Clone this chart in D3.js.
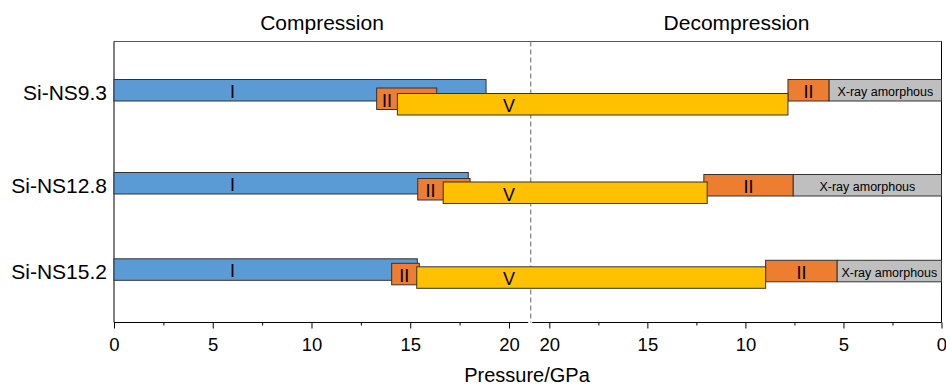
<!DOCTYPE html>
<html>
<head>
<meta charset="utf-8">
<script src="https://cdn.jsdelivr.net/npm/d3@7"></script>
<style>
  body { margin: 0; background: #fff; }
  svg text { font-family: "Liberation Sans", Arial, sans-serif; fill: #000; }
</style>
</head>
<body>
<div id="chart"></div>
<script>
// ---------- data (GPa) ----------
var samples = ["Si-NS9.3", "Si-NS12.8", "Si-NS15.2"];

// compression side
var phaseIEnd = [18.84, 17.94, 15.36];
var phaseIIcStart = [13.3, 15.38, 14.06];
var phaseIIcEnd = [16.34, 18.03, 15.46];
var phaseVStart = [14.35, 16.67, 15.33];

// decompression side (pressure falling)
var phaseVEnd = [7.83, 11.95, 8.97];
var phaseIIdStart = [7.83, 12.12, 8.97];
var phaseIIdEnd = [5.73, 7.56, 5.32];

var compTicks = [0, 5, 10, 15, 20];
var compMinor = [2.5, 7.5, 12.5, 17.5];
var decompTicks = [20, 15, 10, 5, 0];
var decompMinor = [17.5, 12.5, 7.5, 2.5];

var colors = { I: "#5B9BD5", II: "#ED7D31", V: "#FFC000", A: "#BFBFBF" };

// ---------- layout ----------
var svgWidth = 946, svgHeight = 386;
var plotTop = 41.5, plotBottom = 322.5, plotLeft = 114, plotRight = 941.5, splitX = 530.7;
var barH = 21.5;

// lane offsets of each phase box below the phase I box, per row
var laneIIc = [8.5, 6, 4.5];
var laneV = [14, 9.5, 8];
var laneIId = [0, 2, 1.5];

var svg = d3.select("#chart").append("svg")
  .attr("width", svgWidth)
  .attr("height", svgHeight);

var xC = d3.scaleLinear().domain([0, 21.1]).range([plotLeft, splitX]);
var xD = d3.scaleLinear().domain([20.95, 0]).range([splitX, plotRight]);
var yRow = d3.scaleOrdinal().domain(samples).range([79.5, 172.5, 258.8]);

// frame
svg.append("line").attr("x1", plotLeft).attr("x2", plotRight).attr("y1", plotTop).attr("y2", plotTop)
  .attr("stroke", "#555").attr("stroke-width", 1);
svg.append("line").attr("x1", plotLeft).attr("x2", plotLeft).attr("y1", plotTop).attr("y2", plotBottom)
  .attr("stroke", "#000").attr("stroke-width", 1);
svg.append("line").attr("x1", plotRight).attr("x2", plotRight).attr("y1", plotTop).attr("y2", plotBottom)
  .attr("stroke", "#000").attr("stroke-width", 1);
svg.append("line").attr("x1", plotLeft).attr("x2", splitX - 2.5).attr("y1", plotBottom).attr("y2", plotBottom)
  .attr("stroke", "#000").attr("stroke-width", 1);
svg.append("line").attr("x1", splitX + 1.5).attr("x2", plotRight).attr("y1", plotBottom).attr("y2", plotBottom)
  .attr("stroke", "#000").attr("stroke-width", 1);

// split line
svg.append("line").attr("x1", splitX).attr("x2", splitX).attr("y1", plotTop).attr("y2", plotBottom)
  .attr("stroke", "#8a8a8a").attr("stroke-width", 1.3).attr("stroke-dasharray", "5,3");

// axes
function drawAxis(scale, ticks, size, labels) {
  var ax = d3.axisBottom(scale).tickValues(ticks).tickSize(size).tickSizeOuter(0).tickPadding(9);
  if (!labels) ax.tickFormat("");
  var g = svg.append("g").attr("transform", "translate(0," + plotBottom + ")").call(ax);
  g.select(".domain").remove();
  g.selectAll("line").attr("stroke", "#000");
  g.selectAll("text").style("font-size", "18.5px").attr("fill", "#000")
    .style("font-family", '"Liberation Sans", Arial, sans-serif');
  return g;
}
drawAxis(xC, compTicks, 6, true);
drawAxis(xC, compMinor, 3, false);
drawAxis(xD, decompTicks, 6, true);
drawAxis(xD, decompMinor, 3, false);

// bars
var rows = samples.map(function(s, i) { return { name: s, i: i }; });

function box(x0, x1, y, fill, label, lx, fs) {
  svg.append("rect")
    .attr("x", x0).attr("y", y).attr("width", x1 - x0).attr("height", barH)
    .attr("fill", fill).attr("stroke", "#333").attr("stroke-width", 1);
  if (label) {
    svg.append("text")
      .attr("x", lx).attr("y", y + barH / 2 + 1.5)
      .attr("dy", "0.35em")
      .attr("text-anchor", "middle")
      .style("font-size", fs || "18px")
      .text(label);
  }
}

rows.forEach(function(r) {
  var i = r.i, top = yRow(r.name);
  // phase I
  box(xC(0), xC(phaseIEnd[i]), top, colors.I, "I", xC(6));
  // phase II on compression (label in its visible part)
  box(xC(phaseIIcStart[i]), xC(phaseIIcEnd[i]), top + laneIIc[i], colors.II, "II",
    (xC(phaseIIcStart[i]) + xC(phaseVStart[i])) / 2);
  // phase II on decompression
  box(xD(phaseIIdStart[i]), xD(phaseIIdEnd[i]), top + laneIId[i], colors.II, "II",
    (xD(phaseIIdStart[i]) + xD(phaseIIdEnd[i])) / 2);
  // X-ray amorphous
  box(xD(phaseIIdEnd[i]), xD(0), top + laneIId[i], colors.A, "X-ray amorphous",
    (xD(phaseIIdEnd[i]) + xD(0)) / 2, "12.5px");
  // phase V across both sides
  box(xC(phaseVStart[i]), xD(phaseVEnd[i]), top + laneV[i], colors.V, "V", xC(20));

  // row label
  svg.append("text")
    .attr("x", 107).attr("y", top + barH / 2 + 2)
    .attr("dy", "0.35em")
    .attr("text-anchor", "end")
    .style("font-size", "21px")
    .text(r.name);
});

// titles
svg.append("text").attr("x", 322).attr("y", 30).attr("text-anchor", "middle")
  .style("font-size", "21px").text("Compression");
svg.append("text").attr("x", 736.5).attr("y", 30).attr("text-anchor", "middle")
  .style("font-size", "21px").text("Decompression");
svg.append("text").attr("x", 527).attr("y", 382).attr("text-anchor", "middle")
  .style("font-size", "20px").text("Pressure/GPa");
</script>
</body>
</html>
